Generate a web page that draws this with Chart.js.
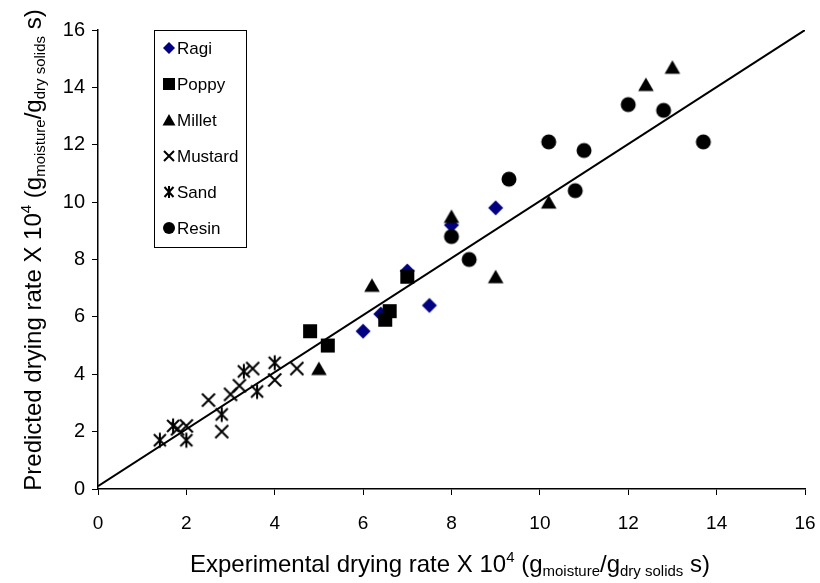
<!DOCTYPE html>
<html><head><meta charset="utf-8">
<script src="https://cdn.jsdelivr.net/npm/chart.js@4.4.1/dist/chart.umd.min.js"></script>
<style>html,body{margin:0;padding:0;background:#fff;}canvas{display:block;}</style>
</head><body>
<canvas id="c" width="820" height="583"></canvas>
<script>
// ---- data ----
const seriesNames = ['Ragi', 'Poppy', 'Millet', 'Mustard', 'Sand', 'Resin'];
const ragi    = [[6.0,5.5],[6.4,6.1],[7.0,7.6],[7.5,6.4],[8.0,9.2],[9.0,9.8]];
const poppy   = [[4.8,5.5],[5.2,5.0],[6.5,5.9],[6.6,6.2],[7.0,7.4]];
const millet  = [[5.0,4.2],[6.2,7.1],[8.0,9.5],[9.0,7.4],[10.2,10.0],[12.4,14.1],[13.0,14.7]];
const mustard = [[1.8,2.1],[2.0,2.2],[2.5,3.1],[2.8,2.0],[3.0,3.3],[3.2,3.6],[3.5,4.2],[4.0,3.8],[4.5,4.2]];
const sand    = [[1.4,1.7],[1.7,2.2],[2.0,1.7],[2.8,2.6],[3.3,4.1],[3.6,3.4],[4.0,4.4]];
const resin   = [[8.0,8.8],[8.4,8.0],[9.3,10.8],[10.2,12.1],[10.8,10.4],[11.0,11.8],[12.0,13.4],[12.8,13.2],[13.7,12.1]];
const fitLine = [[0,0.1],[16,16]];
const xTickLabels = ['0','2','4','6','8','10','12','14','16'];
const yTickLabels = ['0','2','4','6','8','10','12','14','16'];

const FONT = '"Liberation Sans", Arial, Helvetica, sans-serif';

// ---- marker images ----
function mk(size, fn){const c=document.createElement('canvas');c.width=c.height=size;const g=c.getContext('2d');fn(g,size/2);return c;}
const markers = {
  Ragi: mk(18,(g,h)=>{g.fillStyle='#000080';g.beginPath();g.moveTo(h,h-7.5);g.lineTo(h+7.5,h);g.lineTo(h,h+7.5);g.lineTo(h-7.5,h);g.closePath();g.fill();}),
  Poppy: mk(18,(g,h)=>{g.fillStyle='#000';g.fillRect(h-7,h-7,14,14);}),
  Millet: mk(18,(g,h)=>{g.fillStyle='#000';g.beginPath();g.moveTo(h,h-7);g.lineTo(h+7.8,h+6.5);g.lineTo(h-7.8,h+6.5);g.closePath();g.fill();}),
  Mustard: mk(18,(g,h)=>{g.strokeStyle='#000';g.lineWidth=2;g.beginPath();g.moveTo(h-6.5,h-6.5);g.lineTo(h+6.5,h+6.5);g.moveTo(h+6.5,h-6.5);g.lineTo(h-6.5,h+6.5);g.stroke();}),
  Sand: mk(18,(g,h)=>{g.strokeStyle='#000';g.lineWidth=2;g.beginPath();g.moveTo(h-6,h-6);g.lineTo(h+6,h+6);g.moveTo(h+6,h-6);g.lineTo(h-6,h+6);g.moveTo(h,h-7.5);g.lineTo(h,h+7.5);g.stroke();}),
  Resin: mk(18,(g,h)=>{g.fillStyle='#000';g.beginPath();g.arc(h,h,7.5,0,Math.PI*2);g.fill();})
};
const legMarkers = {
  Ragi: mk(14,(g,h)=>{g.fillStyle='#000080';g.beginPath();g.moveTo(h,h-6);g.lineTo(h+6,h);g.lineTo(h,h+6);g.lineTo(h-6,h);g.closePath();g.fill();}),
  Poppy: mk(14,(g,h)=>{g.fillStyle='#000';g.fillRect(h-6,h-6,12,12);}),
  Millet: mk(14,(g,h)=>{g.fillStyle='#000';g.beginPath();g.moveTo(h,h-6);g.lineTo(h+6.5,h+5.5);g.lineTo(h-6.5,h+5.5);g.closePath();g.fill();}),
  Mustard: mk(14,(g,h)=>{g.strokeStyle='#000';g.lineWidth=2;g.beginPath();g.moveTo(h-5,h-5);g.lineTo(h+5,h+5);g.moveTo(h+5,h-5);g.lineTo(h-5,h+5);g.stroke();}),
  Sand: mk(14,(g,h)=>{g.strokeStyle='#000';g.lineWidth=2;g.beginPath();g.moveTo(h-4.5,h-5);g.lineTo(h+4.5,h+5);g.moveTo(h+4.5,h-5);g.lineTo(h-4.5,h+5);g.moveTo(h,h-6);g.lineTo(h,h+6);g.stroke();}),
  Resin: mk(14,(g,h)=>{g.fillStyle='#000';g.beginPath();g.arc(h,h,6,0,Math.PI*2);g.fill();})
};

const seriesData = [ragi, poppy, millet, mustard, sand, resin];
const toXY = a => a.map(p => ({x:p[0], y:p[1]}));

const datasets = seriesNames.map((n,i)=>({
  type:'scatter', label:n, data:toXY(seriesData[i]),
  pointStyle: markers[n], pointRadius: 8, pointHoverRadius: 8,
  order: seriesNames.length - i
}));
datasets.push({type:'line', label:'fit', data:toXY(fitLine), borderColor:'#000', borderWidth:2,
  pointRadius:0, fill:false, tension:0, order: 10});

// ---- rich text ----
function drawRich(ctx, segs, cx, cy, rot, sx){
  ctx.save(); ctx.translate(cx,cy); ctx.rotate(rot); ctx.scale(sx||1,1);
  let total=0;
  segs.forEach(s=>{ctx.font=s.size+'px '+FONT; s.w=ctx.measureText(s.t).width; total+=s.w;});
  let x=-total/2; ctx.textBaseline='alphabetic'; ctx.textAlign='left'; ctx.fillStyle='#000';
  segs.forEach(s=>{ctx.font=s.size+'px '+FONT; ctx.fillText(s.t,x,s.dy||0); x+=s.w;});
  ctx.restore();
}
function titleSegs(start){
  const M=24, S=15;
  return [{t:start+' X 10',size:M},{t:'4',size:S,dy:-10},{t:' (g',size:M},{t:'moisture',size:S,dy:4},
          {t:'/g',size:M},{t:'dry solids',size:S,dy:4},{t:' s)',size:M}];
}

const decor = {
  id:'decor',
  afterDraw(chart){
    const ctx=chart.ctx;
    drawRich(ctx, titleSegs('Experimental drying rate'), 450, 572, 0, 1);
    drawRich(ctx, titleSegs('Predicted drying rate'), 41, 250, -Math.PI/2, 1);
    // legend
    const bx=154.5, by=30.5, bw=92, bh=217;
    ctx.save();
    ctx.fillStyle='#fff'; ctx.fillRect(bx,by,bw,bh);
    ctx.strokeStyle='#000'; ctx.lineWidth=1; ctx.strokeRect(bx,by,bw,bh);
    ctx.font='17px '+FONT; ctx.textBaseline='middle'; ctx.textAlign='left'; ctx.fillStyle='#000';
    seriesNames.forEach((n,i)=>{
      const y=48+i*36;
      const m=legMarkers[n];
      ctx.drawImage(m, 169-m.width/2, y-m.height/2);
      ctx.fillText(n, 177, y+1);
    });
    ctx.restore();
  }
};

new Chart(document.getElementById('c'), {
  data:{datasets},
  options:{
    responsive:false, animation:false, devicePixelRatio:1,
    layout:{padding:{top:30,right:15,left:0,bottom:0}},
    plugins:{legend:{display:false}, tooltip:{enabled:false}},
    scales:{
      x:{type:'linear', min:0, max:16,
         ticks:{stepSize:2, color:'#000', font:{family:FONT,size:19}, padding:17,
                callback:(v,i)=>xTickLabels[i]},
         grid:{display:true, drawOnChartArea:false, drawTicks:true, tickLength:6, color:'#000', lineWidth:1},
         border:{display:true, color:'#000', width:1.5},
         afterFit:s=>{s.height=94; s.paddingLeft=0; s.paddingRight=0;}},
      y:{type:'linear', min:0, max:16,
         ticks:{stepSize:2, color:'#000', font:{family:FONT,size:20}, padding:7,
                callback:(v,i)=>yTickLabels[i]},
         grid:{display:true, drawOnChartArea:false, drawTicks:true, tickLength:6, color:'#000', lineWidth:1},
         border:{display:true, color:'#000', width:1.5},
         afterFit:s=>{s.width=98; s.paddingTop=0; s.paddingBottom=0;}}
    }
  },
  plugins:[decor]
});
</script>
</body></html>
